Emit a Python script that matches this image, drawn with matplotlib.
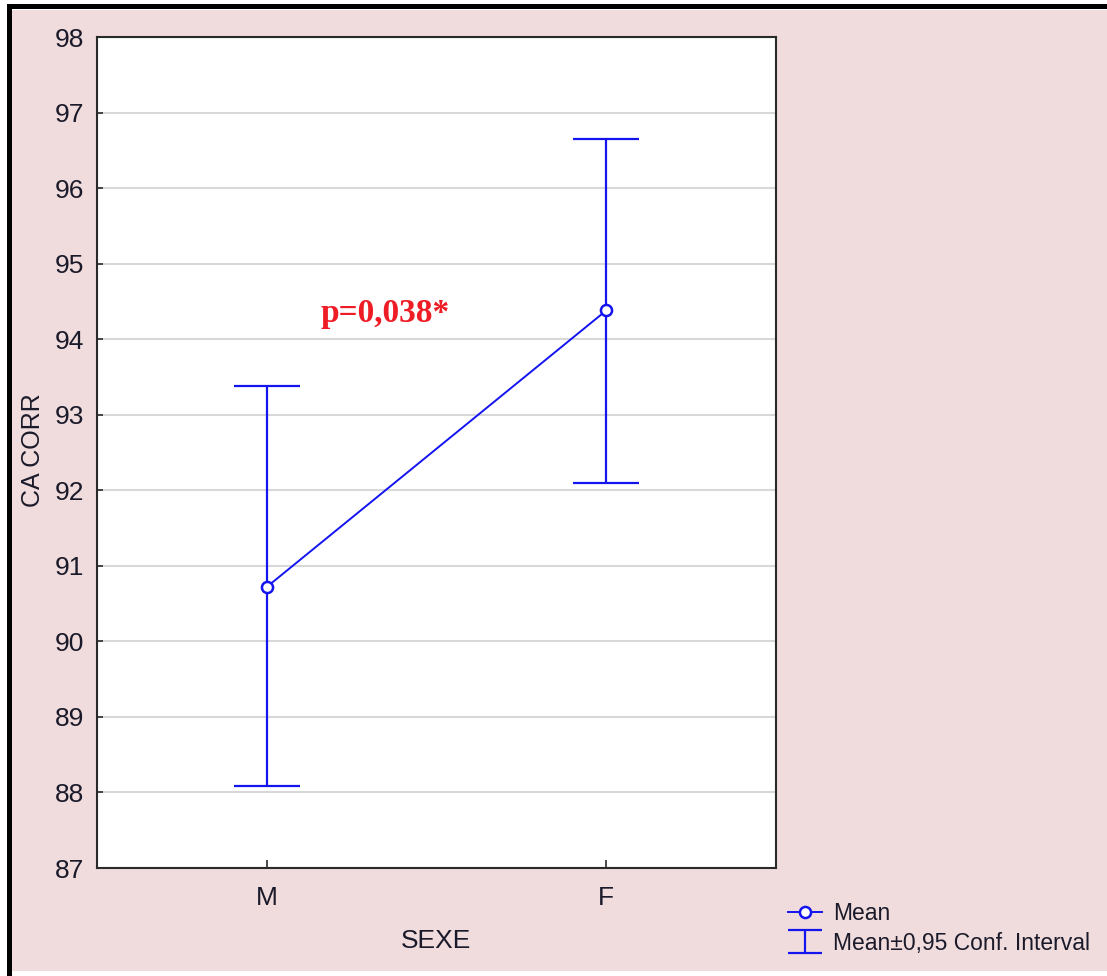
import matplotlib
matplotlib.use("Agg")
import matplotlib.pyplot as plt
from matplotlib.patches import Rectangle
from matplotlib.lines import Line2D
from matplotlib.legend_handler import HandlerErrorbar
from matplotlib.container import ErrorbarContainer
from matplotlib import font_manager

# Data: mean CA CORR by sex with 95% confidence limits
groups = ["M", "F"]
means = [90.72, 94.38]
ci_low = [88.09, 92.10]
ci_high = [93.38, 96.65]
y_ticks = list(range(87, 99))
p_label = "p=0,038*"

names = {f.name for f in font_manager.fontManager.ttflist}
narrow = "Liberation Sans Narrow" if "Liberation Sans Narrow" in names else "Liberation Sans"

pink = "#f0dcdc"
blue = "#1414f0"
txt = "#1a1a2a"

W, H = 1107, 976
fig = plt.figure(figsize=(W / 100, H / 100), dpi=100, facecolor="white")

# page background and frame
fig.patches.append(Rectangle((12 / W, 5 / H), 1 - 12 / W, 1 - 15 / H,
                             transform=fig.transFigure, facecolor=pink,
                             edgecolor="none", zorder=-3))
fig.patches.append(Rectangle((7 / W, 0), 5 / W, 1 - 4 / H,
                             transform=fig.transFigure, facecolor="black",
                             edgecolor="none", zorder=-2))
fig.patches.append(Rectangle((7 / W, 1 - 9 / H), 1 - 7 / W, 5 / H,
                             transform=fig.transFigure, facecolor="black",
                             edgecolor="none", zorder=-2))

ax = fig.add_axes([97 / W, 1 - 868 / H, (776 - 97) / W, (868 - 37) / H])
ax.set_facecolor("white")
ax.set_zorder(1)

x = list(range(len(groups)))
yerr = [[m - lo for m, lo in zip(means, ci_low)],
        [hi - m for m, hi in zip(means, ci_high)]]

eb = ax.errorbar(x, means, yerr=yerr, fmt="none", ecolor=blue, elinewidth=1.6,
                 capsize=24, capthick=1.6, zorder=3)
line, = ax.plot(x, means, color=blue, lw=1.4, marker="o", markersize=8,
                markerfacecolor="white", markeredgecolor=blue,
                markeredgewidth=1.8, zorder=4)

ax.text(0.348, 94.23, p_label, color="#ee1c24", fontsize=24,
        fontweight="bold", family="Liberation Serif", ha="center",
        va="baseline")

ax.set_xlim(-0.5, 1.5)
ax.set_ylim(87, 98)
ax.set_xticks(x)
ax.set_xticklabels(groups)
ax.set_yticks(y_ticks)
ax.yaxis.grid(True, color="#d8d8d8", lw=1.5)
ax.set_axisbelow(True)

for s in ax.spines.values():
    s.set_color("#2a2a2a")
    s.set_linewidth(1.5)

ax.tick_params(axis="both", direction="in", colors="#2a2a2a", width=1.2,
               labelcolor=txt)
ax.tick_params(axis="y", length=4, pad=9)
ax.tick_params(axis="x", length=6, pad=13)
for lab in ax.get_xticklabels() + ax.get_yticklabels():
    lab.set_family(narrow)
    lab.set_fontsize(19)

ax.set_xlabel("SEXE", family=narrow, fontsize=19, color=txt)
ax.xaxis.set_label_coords(0.5, -0.074)
ax.set_ylabel("CA CORR", family="Liberation Sans", fontsize=18, color=txt)
ax.yaxis.set_label_coords(-0.0766, 0.503)


def cap_update(leg_artist, orig):
    leg_artist.update_from(orig)
    if isinstance(leg_artist, Line2D) and leg_artist.get_marker() == "_":
        leg_artist.set_markersize(24)


leg = fig.legend([line, eb], ["Mean", "Mean\u00b10,95 Conf. Interval"],
                 loc="upper left", bbox_to_anchor=(788 / W, 1 - 902 / H),
                 frameon=False, prop={"family": "Liberation Sans", "size": 16.5},
                 handlelength=1.5, handletextpad=0.45, labelspacing=0.3,
                 borderpad=0, borderaxespad=0,
                 handler_map={ErrorbarContainer: HandlerErrorbar(update_func=cap_update)})
for t in leg.get_texts():
    t.set_color(txt)

fig.savefig("out.png", dpi=100, facecolor=fig.get_facecolor())
